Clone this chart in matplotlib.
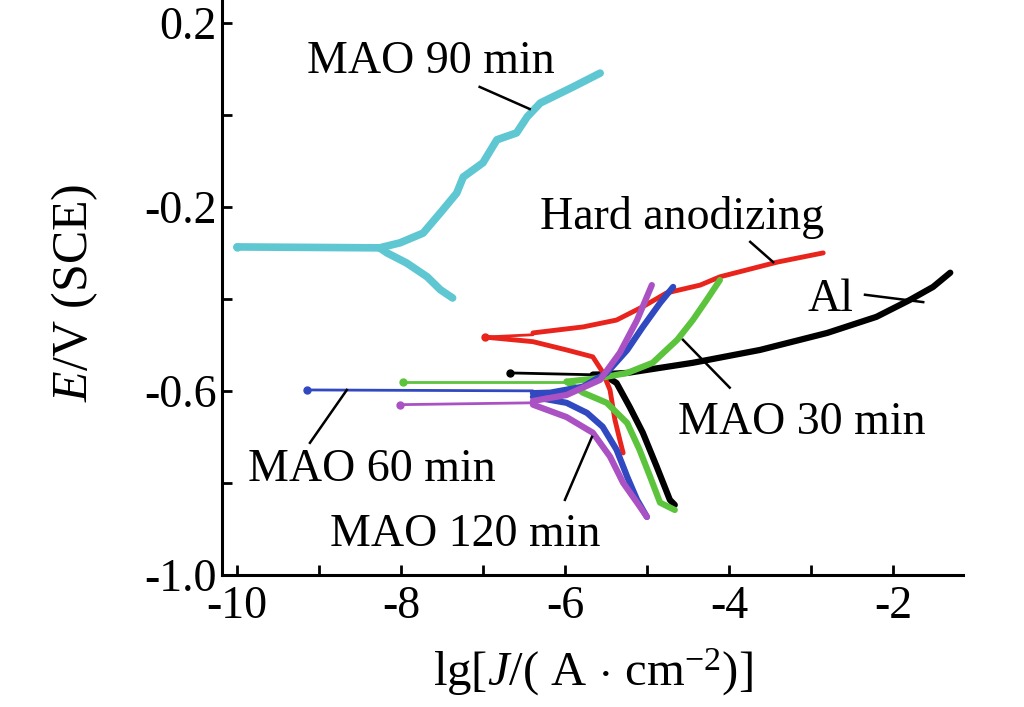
import matplotlib
matplotlib.use("Agg")
import matplotlib.pyplot as plt
from matplotlib.ticker import MultipleLocator, FixedLocator

plt.rcParams['font.family'] = ['Liberation Serif', 'DejaVu Serif']
plt.rcParams['mathtext.fontset'] = 'custom'
plt.rcParams['mathtext.rm'] = 'Liberation Serif'
plt.rcParams['mathtext.it'] = 'Liberation Serif:italic'
plt.rcParams['axes.unicode_minus'] = False

# ---- data: (lg J, E) ----
# each curve: tip (near Ecorr), cathodic branch, anodic branch
mao90_tip_x = [-10.0, -8.26]
mao90_tip_y = [-0.287, -0.289]
mao90_cat_x = [-8.26, -8.17, -7.93, -7.68, -7.52, -7.37]
mao90_cat_y = [-0.289, -0.300, -0.322, -0.352, -0.380, -0.398]
mao90_an_x = [-8.26, -8.01, -7.73, -7.52, -7.32, -7.24, -7.00, -6.83, -6.59, -6.46, -6.30, -5.90, -5.57]
mao90_an_y = [-0.289, -0.278, -0.257, -0.213, -0.170, -0.135, -0.104, -0.054, -0.039, -0.004, 0.026, 0.061, 0.091]

hard_tip_x = [-6.98, -6.39]
hard_tip_y = [-0.483, -0.478]
hard_cat_x = [-6.98, -6.39, -5.98, -5.66, -5.54, -5.45, -5.39, -5.33, -5.29]
hard_cat_y = [-0.483, -0.493, -0.511, -0.526, -0.559, -0.598, -0.663, -0.707, -0.735]
hard_an_x = [-6.39, -5.78, -5.37, -5.05, -4.76, -4.35, -4.11, -3.41, -2.85]
hard_an_y = [-0.474, -0.461, -0.446, -0.417, -0.387, -0.370, -0.352, -0.320, -0.300]

al_tip_x = [-6.67, -5.66]
al_tip_y = [-0.561, -0.565]
al_cat_x = [-5.66, -5.51, -5.37, -5.21, -5.05, -4.88, -4.72, -4.66]
al_cat_y = [-0.565, -0.567, -0.583, -0.635, -0.691, -0.765, -0.837, -0.848]
al_an_x = [-5.66, -5.24, -4.44, -3.62, -2.80, -2.20, -1.79, -1.51, -1.30]
al_an_y = [-0.565, -0.561, -0.539, -0.511, -0.474, -0.439, -0.402, -0.374, -0.343]

mao30_tip_x = [-7.98, -5.98]
mao30_tip_y = [-0.580, -0.580]
mao30_cat_x = [-5.98, -5.78, -5.49, -5.24, -5.09, -4.96, -4.84, -4.66]
mao30_cat_y = [-0.580, -0.604, -0.626, -0.670, -0.728, -0.787, -0.843, -0.859]
mao30_an_x = [-5.98, -5.57, -5.24, -4.93, -4.63, -4.44, -4.27, -4.11]
mao30_an_y = [-0.580, -0.572, -0.561, -0.539, -0.489, -0.446, -0.402, -0.359]

mao60_tip_x = [-9.15, -6.39]
mao60_tip_y = [-0.598, -0.600]
mao60_cat_x = [-6.39, -5.98, -5.73, -5.54, -5.37, -5.24, -5.12, -5.00]
mao60_cat_y = [-0.613, -0.626, -0.648, -0.678, -0.728, -0.787, -0.837, -0.874]
mao60_an_x = [-6.39, -6.18, -5.78, -5.49, -5.24, -5.05, -4.84, -4.68]
mao60_an_y = [-0.605, -0.604, -0.591, -0.561, -0.511, -0.461, -0.409, -0.374]

mao120_tip_x = [-8.01, -6.39]
mao120_tip_y = [-0.630, -0.626]
mao120_cat_x = [-6.39, -5.98, -5.66, -5.45, -5.29, -5.12, -5.00]
mao120_cat_y = [-0.630, -0.657, -0.691, -0.743, -0.800, -0.843, -0.874]
mao120_an_x = [-6.39, -5.98, -5.57, -5.33, -5.12, -4.94]
mao120_an_y = [-0.622, -0.609, -0.576, -0.517, -0.446, -0.370]

x_ticks = [-10, -8, -6, -4, -2]
y_ticks = [0.2, -0.2, -0.6, -1.0]
y_ticklabels = ['0.2', '-0.2', '-0.6', '-1.0']

fig = plt.figure(figsize=(10.24, 7.07), dpi=100)
ax = fig.add_axes([0.217, 0.187, 0.723, 0.813])

curves = [
    (mao90_tip_x, mao90_tip_y, mao90_cat_x, mao90_cat_y, mao90_an_x, mao90_an_y, '#5ec7d2', 5.5),
    (al_tip_x, al_tip_y, al_cat_x, al_cat_y, al_an_x, al_an_y, '#000000', 4.5),
    (hard_tip_x, hard_tip_y, hard_cat_x, hard_cat_y, hard_an_x, hard_an_y, '#e8241c', 3.5),
    (mao30_tip_x, mao30_tip_y, mao30_cat_x, mao30_cat_y, mao30_an_x, mao30_an_y, '#5cc43c', 4.5),
    (mao60_tip_x, mao60_tip_y, mao60_cat_x, mao60_cat_y, mao60_an_x, mao60_an_y, '#3048c0', 4.5),
    (mao120_tip_x, mao120_tip_y, mao120_cat_x, mao120_cat_y, mao120_an_x, mao120_an_y, '#aa52c4', 4.5),
]
for tx, ty, cx, cy, axx, ayy, col, lw in curves:
    tip_lw = lw if col == '#5ec7d2' else 2.0
    ax.plot(tx, ty, color=col, lw=tip_lw, solid_capstyle='round')
    ax.plot(tx[:1], ty[:1], 'o', color=col, ms=5)
    ax.plot(cx, cy, color=col, lw=lw, solid_capstyle='round', solid_joinstyle='round')
    ax.plot(axx, ayy, color=col, lw=lw, solid_capstyle='round', solid_joinstyle='round')

fs = 33
labels = [
    ('MAO 90 min', -9.15, 0.115, (-7.04, 0.061), (-6.43, 0.013)),
    ('Hard anodizing', -6.30, -0.224, (-3.74, -0.276), (-3.46, -0.320)),
    ('Al', -3.04, -0.402, (-2.34, -0.391), (-1.63, -0.407)),
    ('MAO 30 min', -4.62, -0.670, (-4.56, -0.489), (-3.99, -0.593)),
    ('MAO 60 min', -9.87, -0.772, (-9.11, -0.713), (-8.66, -0.598)),
    ('MAO 120 min', -8.87, -0.913, (-6.00, -0.837), (-5.67, -0.700)),
]
for txt, x, y, p1, p2 in labels:
    ax.text(x, y, txt, fontsize=fs, ha='left', va='center')
    ax.plot([p1[0], p2[0]], [p1[1], p2[1]], color='black', lw=1.8)

ax.set_xlim(-10.18, -1.15)
ax.set_ylim(-1.0, 0.25)
ax.spines['top'].set_visible(False)
ax.spines['right'].set_visible(False)
ax.spines['left'].set_linewidth(2.2)
ax.spines['bottom'].set_linewidth(2.2)

ax.xaxis.set_major_locator(FixedLocator(x_ticks))
ax.xaxis.set_minor_locator(MultipleLocator(1))
ax.set_xticklabels([str(v) for v in x_ticks])
ax.yaxis.set_major_locator(FixedLocator(y_ticks))
ax.yaxis.set_minor_locator(MultipleLocator(0.2))
ax.set_yticklabels(y_ticklabels)
ax.tick_params(which='both', direction='in', length=7, width=2, labelsize=fs)
ax.tick_params(axis='x', pad=8)
ax.tick_params(axis='y', pad=4)

ax.set_xlabel(r'lg[$J$/( A$\,\cdot\,$cm$^{-2}$)]', fontsize=35)
ax.set_ylabel(r'$E$/V (SCE)', fontsize=36)
ax.xaxis.set_label_coords(0.5, -0.125)
ax.yaxis.set_label_coords(-0.165, 0.49)

fig.savefig('out.png', dpi=100)
